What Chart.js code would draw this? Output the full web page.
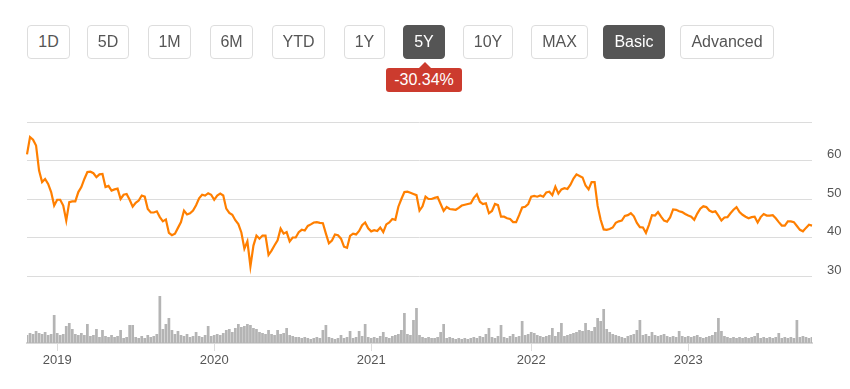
<!DOCTYPE html>
<html>
<head>
<meta charset="utf-8">
<script src="https://cdn.jsdelivr.net/npm/chart.js@4/dist/chart.umd.min.js"></script>
<style>
    html, body { margin: 0; padding: 0; background: #fff; }
    #wrap { position: relative; width: 850px; height: 389px; overflow: hidden;
            font-family: "Liberation Sans", Arial, sans-serif; }
    #chart { position: absolute; left: 0; top: 0; }
    .btn { position: absolute; top: 25px; height: 34px; box-sizing: border-box;
           border: 1px solid #ddd; border-radius: 4px; background: #fff; color: #555;
           font-size: 16px; line-height: 32px; text-align: center; }
    .btn.on { background: #555; border-color: #555; color: #fff; }
    .badge { position: absolute; left: 386px; top: 68px; width: 76px; height: 24px;
             background: #cc3b2e; color: #fff; font-size: 16px; line-height: 24px;
             text-align: center; border-radius: 3px; }
    .badge::before { content: ''; position: absolute; left: 33px; top: -6px;
                     border-left: 6px solid transparent; border-right: 6px solid transparent;
                     border-bottom: 6px solid #cc3b2e; }
</style>
</head>
<body>
<div id="wrap">
    <canvas id="chart" width="850" height="389"></canvas>
    <div class="btn" style="left:27px;width:43px">1D</div>
    <div class="btn" style="left:87px;width:42px">5D</div>
    <div class="btn" style="left:148px;width:43px">1M</div>
    <div class="btn" style="left:210px;width:43px">6M</div>
    <div class="btn" style="left:272px;width:53px">YTD</div>
    <div class="btn" style="left:344px;width:41px">1Y</div>
    <div class="btn on" style="left:403px;width:42px">5Y</div>
    <div class="btn" style="left:463px;width:50px">10Y</div>
    <div class="btn" style="left:531px;width:57px">MAX</div>
    <div class="btn on" style="left:603px;width:62px">Basic</div>
    <div class="btn" style="left:680px;width:94px">Advanced</div>
    <div class="badge">-30.34%</div>
</div>
<script>
// ── Daten (wöchentlich, ab 26.10.2018) ─────────────────────────────────────

const START_DATE = Date.UTC(2018, 9, 26);

const price = [
    61.6, 66.1, 65.4, 63.9, 57.4, 54.4, 55.2, 53.9, 51.8, 48.3, 49.8, 49.8, 48.3, 44.4, 49.2, 49.4,
    49.4, 51.8, 53.1, 55.2, 57.0, 57.1, 56.7, 55.7, 56.4, 56.5, 53.1, 53.4, 52.2, 52.5, 52.7, 50.0,
    51.1, 51.3, 49.8, 48.0, 49.0, 49.6, 50.9, 50.6, 47.4, 46.5, 46.5, 46.8, 45.3, 44.2, 44.7, 41.2,
    40.6, 41.0, 42.5, 44.0, 47.0,
    46.0, 46.3, 47.0, 48.4, 50.2, 51.1, 50.9, 51.5, 51.1, 49.8, 50.9, 51.4, 50.9, 47.5, 46.4, 45.9,
    44.5, 43.5, 41.3, 37.1, 39.0, 32.5, 37.9, 40.5, 39.7, 40.5, 40.5, 35.5, 36.6, 38.0, 39.3, 42.3,
    41.0, 41.4, 39.0, 40.0, 40.0, 41.4, 42.0, 41.8, 43.0, 43.4, 43.9, 44.0, 43.8, 43.7, 41.0, 38.5,
    39.2, 40.8, 40.6, 39.7,
    37.6, 37.3, 40.4, 41.0, 40.8, 41.7, 43.2, 43.9, 42.4, 41.6, 41.9, 41.7, 42.6, 41.4, 43.4, 43.9,
    44.8, 44.6, 48.0, 50.0, 51.8, 51.9, 51.6, 51.3, 51.0, 47.0, 48.1, 50.6, 50.0, 50.0, 50.3, 50.5,
    48.7, 46.9, 47.9, 47.4, 47.3, 47.2, 47.7, 48.3, 48.5, 48.7, 48.9, 50.3, 51.2, 49.3, 48.7, 48.9,
    46.3, 46.9, 48.7,
    48.4, 45.4, 45.4, 45.0, 44.8, 44.0, 44.0, 45.8, 47.8, 48.0, 48.7, 50.6, 50.8, 50.6, 50.9, 50.6,
    51.7, 51.9, 51.0, 53.2, 51.4, 52.5, 52.8, 52.6, 53.7, 55.3, 56.4, 56.0, 55.6, 53.5, 52.5, 54.4,
    54.4, 48.2, 44.6, 42.1, 42.0, 42.2, 42.6, 43.8, 44.2, 44.4, 45.6, 45.8, 46.3, 45.5, 43.8, 42.7,
    42.6, 41.2, 43.3, 45.8, 45.7, 46.6,
    45.4, 44.4, 44.1, 45.2, 47.3, 47.2, 46.8, 46.6, 46.1, 45.7, 45.4, 44.6, 46.2, 47.5, 48.1, 47.9,
    47.0, 46.6, 46.8, 45.7, 44.4, 45.2, 45.3, 46.3, 47.2, 47.9, 46.6, 45.9, 45.4, 45.0, 45.3, 45.4,
    43.9, 45.3, 46.1, 45.7, 45.7, 45.8, 45.0, 44.0, 43.1, 43.1, 44.2, 44.2, 44.0, 43.0, 42.0, 41.6,
    42.5, 43.3, 43.1,
];

// Volumen in 100k Stück
const volume = [
     8, 10,  9, 12, 10,  9, 11,  8,  9, 28, 10,  8,  9, 17, 20, 14,
     9,  8, 10,  8, 19,  7,  8, 14,  6, 13,  7,  6,  8,  6,  7, 13,
     5,  6, 18, 18,  6,  5,  7,  5,  8,  6,  7,  9, 47, 14, 19, 25,
    13,  9, 12,  8,  7,  9,  6,  7, 11,  7,  6,  8, 17,  7,  8,  9,
     8, 10, 13, 14, 11, 15, 19, 16, 17, 19, 18, 15, 14, 11, 10,  9,
    13,  9,  8, 13,  9, 10, 15,  8,  7,  6,  6,  5,  6,  5,  4,  5,
     6,  5, 13, 18,  6,  5,  4,  5,  8,  5,  6, 12,  5,  6, 12,  7,
    19,  6,  5,  6,  5,  7, 11,  6,  5,  7,  8,  9, 13, 30,  9,  8,
    23, 35,  8,  6,  5,  6,  5,  5,  6, 11, 19,  5,  6,  5,  4,  5,
     4,  5,  4,  5,  6,  5,  7,  6,  9, 15,  6,  5,  7, 18,  6,  5,
     7,  9,  6,  7, 22,  8,  9, 11, 10,  8,  7,  6,  7,  8, 15,  7,
    11, 20,  7,  8,  9, 10, 11, 13, 12, 20, 13, 12, 16, 25, 22, 34,
    14, 11,  9,  8,  7,  6,  5,  7,  8,  9, 13, 23,  8,  9,  7, 11,
     8,  7,  8,  9,  7,  6,  7,  6, 12,  7,  6,  7,  6,  7,  8,  6,
     5,  6,  7,  8, 11, 25, 12,  7,  6,  5,  6,  5,  6,  5,  6,  5,
     6,  7, 10,  5,  6,  5,  6,  5,  6, 10,  5,  6,  5,  6,  5, 23,
     6,  7,  6,  5,  6,
];

const priceTicks = [30, 40, 50, 60, 70];
const VOLUME_MAX = 221;

// ── Achsen-Hilfen ──────────────────────────────────────────────────────────

const weeks = price.map((_, i) =>
    new Date(START_DATE + i * 7 * 864e5).toISOString().slice(0, 10));

// erster Wochenindex jedes neuen Jahres
const yearStarts = weeks
    .map((d, i) => (i > 0 && d.slice(0, 4) !== weeks[i - 1].slice(0, 4)) ? i : -1)
    .filter(i => i >= 0);

Chart.defaults.font.family = '"Liberation Sans", Arial, sans-serif';

// ── Chart ──────────────────────────────────────────────────────────────────

new Chart(document.getElementById('chart'), {
    data: {
        labels: weeks,
        datasets: [
            {
                type: 'line',
                data: price,
                yAxisID: 'y',
                borderColor: '#ff7f00',
                borderWidth: 2.2,
                pointRadius: 0,
                tension: 0,
                order: 0,
            },
            {
                type: 'bar',
                data: volume,
                yAxisID: 'vol',
                backgroundColor: '#b4b4b4',
                barPercentage: 0.9,
                categoryPercentage: 1,
                order: 1,
            },
        ],
    },
    options: {
        responsive: false,
        animation: false,
        layout: { padding: { left: 27, top: 122, right: 0, bottom: 0 } },
        plugins: {
            legend: { display: false },
            tooltip: { enabled: false },
        },
        scales: {
            x: {
                offset: false,
                grid: { offset: false, drawOnChartArea: false, color: '#dcdcdc', tickLength: 8 },
                border: { color: '#d9d9d9', width: 2 },
                ticks: {
                    autoSkip: false,
                    maxRotation: 0,
                    padding: 2,
                    color: '#555',
                    font: { size: 13 },
                    callback: v => weeks[v].slice(0, 4),
                },
                afterBuildTicks(axis) { axis.ticks = yearStarts.map(i => ({ value: i })); },
                afterFit(axis) { axis.height = 46; },
            },
            y: {
                position: 'right',
                min: 12.6,
                max: 70,
                grid: { color: '#dcdcdc', drawTicks: false },
                border: { display: false },
                ticks: {
                    padding: 15,
                    labelOffset: -6,
                    color: '#555',
                    font: { size: 13 },
                    callback: v => (v < 70 ? v : ''),
                },
                afterBuildTicks(axis) { axis.ticks = priceTicks.map(v => ({ value: v })); },
                afterFit(axis) { axis.width = 38; },
            },
            vol: {
                axis: 'y',
                position: 'left',
                display: false,
                min: 0,
                max: VOLUME_MAX,
            },
        },
    },
});
</script>
</body>
</html>
